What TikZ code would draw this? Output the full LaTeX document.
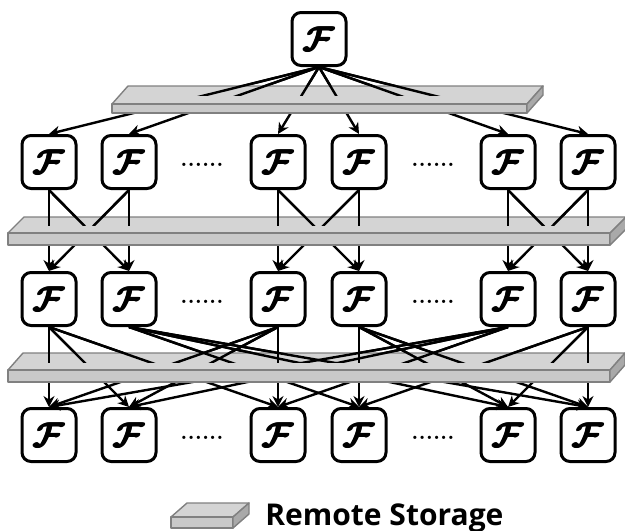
\documentclass[tikz,border=0pt]{standalone}
\usepackage{amsmath}
\usepackage{fontspec}
\newfontfamily\legendfont{Open Sans}
\usetikzlibrary{arrows.meta}

\definecolor{slabtop}{HTML}{D4D4D4}
\definecolor{slabfront}{HTML}{C9C9C9}
\definecolor{slabside}{HTML}{A9A9A9}
\definecolor{slabedge}{HTML}{808080}

% storage slab: left x, right x, y of front top edge, front height, depth dx, depth dy
\newcommand\storageslab[6]{%
  \filldraw[slabface, fill=slabtop] (#1,#3) -- (#2,#3) -- ({#2+#5},{#3-#6}) -- ({#1+#5},{#3-#6}) -- cycle;
  \filldraw[slabface, fill=slabfront] (#1,#3) rectangle (#2,{#3+#4});
  \filldraw[slabface, fill=slabside] (#2,#3) -- ({#2+#5},{#3-#6}) -- ({#2+#5},{#3-#6+#4}) -- (#2,{#3+#4}) -- cycle;
}

% heavy calligraphic function symbol (glyph stacked with small offsets)
\newcommand\fglyph{{\boldmath$\mathcal{F}$}}
\newcommand\fsym{\rlap{\fglyph}\rlap{\raisebox{0.35pt}{\fglyph}}\kern0.45pt%
  \rlap{\raisebox{0.35pt}{\fglyph}}\fglyph}

% connectors of each stage
\newcommand\stagezero{\foreach \t in {1,...,6} {\draw[conn] (top.south) -- (a\t.north);}}
\newcommand\stageone{\foreach \s/\t in {1/1,1/2,2/1,2/2,3/3,3/4,4/3,4/4,5/5,5/6,6/5,6/6}
  {\draw[conn] (a\s.south) -- (b\t.north);}}
\newcommand\stagetwo{%
  \foreach \s in {1,3,5} {\foreach \t in {1,2,3} {\draw[conn] (b\s.south) -- (c\t.north);}}%
  \foreach \s in {2,4,6} {\foreach \t in {4,5,6} {\draw[conn] (b\s.south) -- (c\t.north);}}}

\begin{document}
\begin{tikzpicture}[x=0.5pt, y=-0.5pt,
  fnode/.style={draw, line width=1.5pt, rounded corners=4.5pt, fill=white,
    minimum width=27pt, minimum height=26.5pt, inner sep=0pt,
    font=\fontsize{17}{17}\selectfont},
  dots/.style={anchor=base, inner sep=0pt, font=\fontsize{11.5}{11.5}\selectfont\bfseries},
  conn/.style={line width=1.2pt, -{Stealth[length=5.5pt, width=5.5pt]}},
  slabface/.style={draw=slabedge, line width=0.7pt, line join=round}]
\useasboundingbox (0,0) rectangle (625,530);

% function nodes
\node[fnode] (top) at (319,39) {\fsym};
\foreach \r/\y in {a/162, b/299, c/435} {
  \foreach \i/\x in {1/49, 2/129, 3/278, 4/359, 5/508, 6/588} {
    \node[fnode] (\r\i) at (\x,\y) {\fsym};
  }
  \node[dots] (\r d1) at (202,{\y+4}) {......};
  \node[dots] (\r d2) at (433,{\y+4}) {......};
}

% all connectors
\stagezero
\stageone
\stagetwo

% storage layers
\storageslab{112}{527}{104}{9}{16}{18}
\storageslab{8}{610}{233}{12}{16}{16}
\storageslab{8}{610}{370}{12}{15}{17}

% connector parts lying on the top faces
\begin{scope}
  \clip (0,0) rectangle (625,95);
  \stagezero
\end{scope}
\begin{scope}
  \clip (0,0) rectangle (625,225);
  \stageone
\end{scope}
\begin{scope}
  \clip (0,0) rectangle (625,362);
  \stagetwo
\end{scope}

% legend
\storageslab{171}{233}{517}{11}{16}{14}
\node[anchor=base west, inner sep=0pt, font=\legendfont\bfseries\fontsize{15}{15}\selectfont]
  (legend) at (265,525) {Remote Storage};
\end{tikzpicture}
\end{document}
